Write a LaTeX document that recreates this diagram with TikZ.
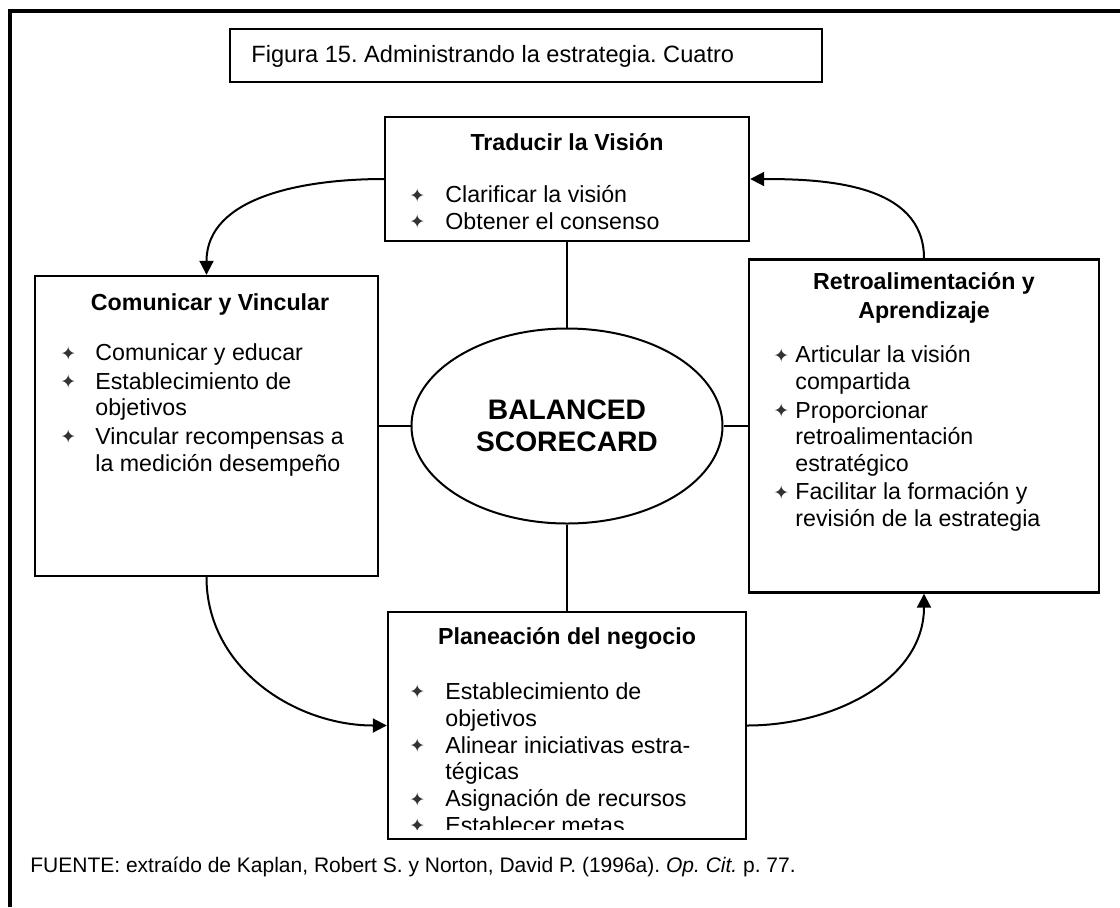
\documentclass[tikz,border=0pt]{standalone}
\usepackage{fontspec}
\setmainfont{Liberation Sans}
\newfontfamily\symfont{DejaVu Sans}
\usetikzlibrary{arrows.meta,shapes.geometric,positioning}
\definecolor{bulgray}{gray}{0.2}
\newcommand{\bul}[1]{\makebox[#1][l]{\raisebox{0.3pt}{\symfont\fontsize{9.5}{9.5}\selectfont\color{bulgray}\char"2726}}}
\frenchspacing

\begin{document}
\begin{tikzpicture}[x=0.5pt, y=-0.5pt,
    box/.style={draw, line width=1.2pt, inner sep=0pt},
    hd/.style={font=\bfseries\fontsize{11.6}{13.3}\selectfont, align=center, inner sep=0pt, anchor=north,
      execute at begin node=\strut},
    txt/.style={font=\fontsize{11.6}{13.3}\selectfont, align=left, inner sep=0pt, anchor=north west,
      execute at begin node=\strut},
    link/.style={line width=0.8pt},
    flow/.style={line width=1pt, -{Triangle[length=7pt,width=7pt]}}]
  \useasboundingbox (0,0) rectangle (1120,907);
  \draw[line width=2pt] (10,907) -- (10,11) -- (1120,11);

  % titulo
  \node[box, minimum width=296pt, minimum height=26.5pt] (fig) at (526,55.5) {};
  \node[txt, font=\fontsize{11.8}{13.3}\selectfont] (figtxt) at (251,43.4) {Figura 15. Administrando la estrategia. Cuatro};

  % centro
  \node[draw, ellipse, line width=1pt, minimum width=155.5pt, minimum height=97.5pt, inner sep=0pt,
        align=center, font=\bfseries\fontsize{14.1}{16}\selectfont] (bsc) at (567,426) {BALANCED\\SCORECARD};

  % Traducir la Vision
  \node[box, minimum width=182pt, minimum height=62pt] (trad) at (567,179) {};
  \node[hd] (tradhd) at (567,131.4) {Traducir la Visión};
  \node[txt] (tradtxt) at (409,185.4) {\bul{18pt}Clarificar la visión\\
    \bul{18pt}Obtener el consenso};

  % Comunicar y Vincular
  \node[box, minimum width=171.5pt, minimum height=150pt] (comu) at (206.5,426) {};
  \node[hd] (comuhd) at (210,291.4) {Comunicar y Vincular};
  \node[txt] (comutxt) at (60,343.4) {\bul{17.5pt}Comunicar y educar\\[1pt]
    \bul{17.5pt}Establecimiento de\\
    \hspace*{17.5pt}objetivos\\[1pt]
    \bul{17.5pt}Vincular recompensas a\\
    \hspace*{17.5pt}la medición desempeño};

  % Retroalimentacion y Aprendizaje
  \node[box, minimum width=175pt, minimum height=166.5pt] (retro) at (924,426) {};
  \node[hd] (retrohd) at (924,272.4) {Retroalimentación y\\[1pt] Aprendizaje};
  \node[txt] (retrotxt) at (773,345.4) {\bul{11pt}Articular la visión\\
    \hspace*{11pt}compartida\\[1pt]
    \bul{11pt}Proporcionar\\
    \hspace*{11pt}retroalimentación\\
    \hspace*{11pt}estratégico\\[1pt]
    \bul{11pt}Facilitar la formación y\\
    \hspace*{11pt}revisión de la estrategia};

  % Planeacion del negocio
  \node[box, minimum width=179pt, minimum height=113.5pt] (plan) at (567,725.5) {};
  \node[hd] (planhd) at (567,625.4) {Planeación del negocio};
  \begin{scope}
    \clip (388,612) rectangle (746,829);
    \node[txt, font=\fontsize{11.6}{13.4}\selectfont] (plantxt) at (409,682.2) {\bul{18pt}Establecimiento de\\
      \hspace*{18pt}objetivos\\
      \bul{18pt}Alinear iniciativas estra-\\
      \hspace*{18pt}tégicas\\
      \bul{18pt}Asignación de recursos\\
      \bul{18pt}Establecer metas};
  \end{scope}

  % lineas al centro
  \draw[link] (trad) -- (bsc);
  \draw[link] (comu.east) -- (bsc.west);
  \draw[link] (bsc.east) -- (retro.west);
  \draw[link] (bsc) -- (plan);

  % ciclo
  \draw[flow] (trad.west) to[out=180,in=90] (comu.north);
  \draw[flow] (retro.north) to[out=90,in=0] (trad.east);
  \draw[flow] (comu.south) to[out=-90,in=180] (plan.west);
  \draw[flow] (plan.east) to[out=0,in=-90] (retro.south);

  \node[txt, font=\fontsize{10.5}{12}\selectfont] (fuente) at (30,855.2)
    {FUENTE: extraído de Kaplan, Robert S. y Norton, David P. (1996a). \textit{Op. Cit.} p. 77.};
\end{tikzpicture}
\end{document}
